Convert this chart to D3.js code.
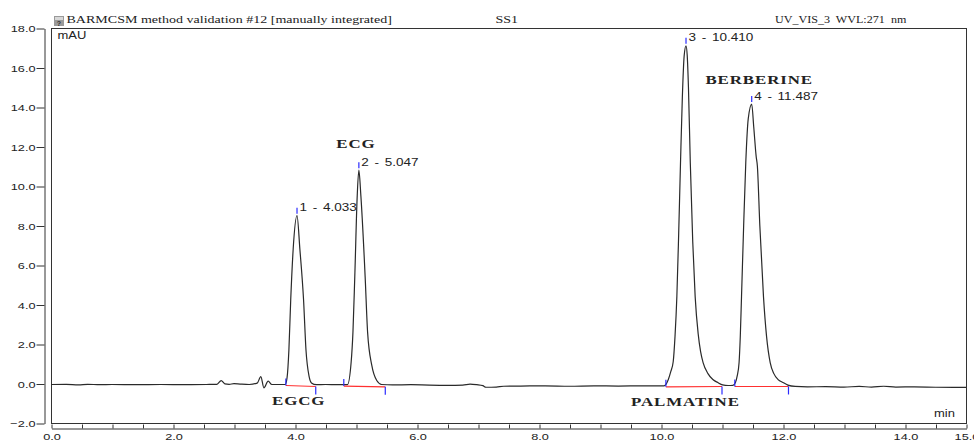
<!DOCTYPE html>
<html>
<head>
<meta charset="utf-8">
<script src="https://cdn.jsdelivr.net/npm/d3@7"></script>
<style>
  html, body { margin: 0; padding: 0; background: #fff; }
  svg { display: block; }
</style>
</head>
<body>
<svg id="chart" width="974" height="441"></svg>
<script>
/* HPLC chromatogram, SS1, UV_VIS_3 at 271 nm.
   Trace points, [time min, signal mAU]. */
const trace = [
  [0.00, -0.05], [0.25, -0.04], [0.45, -0.07], [0.60, -0.04], [0.80, -0.06], [1.00, -0.05],
  [1.40, -0.06], [1.80, -0.05], [2.20, -0.06], [2.55, -0.05], [2.72, -0.04], [2.79, 0.15],
  [2.85, -0.02], [2.92, -0.04], [3.00, -0.01], [3.10, -0.03], [3.25, -0.05], [3.38, 0.02],
  [3.44, 0.35], [3.49, -0.22], [3.56, 0.12], [3.62, -0.05], [3.75, -0.05],
  // peak 1
  [3.84, -0.05], [3.87, 0.30], [3.90, 1.70], [3.93, 4.25], [3.97, 6.80], [4.033, 8.50],
  [4.08, 6.80], [4.14, 4.25], [4.18, 1.70], [4.23, 0.37], [4.27, 0.03], [4.35, -0.06],
  [4.50, -0.05], [4.70, -0.06], [4.86, -0.06],
  // peak 2
  [4.92, 1.06], [4.95, 2.60], [4.98, 5.40], [5.02, 9.50], [5.047, 10.80], [5.08, 9.50],
  [5.15, 5.40], [5.19, 2.60], [5.26, 0.90], [5.34, 0.15], [5.42, -0.05],
  [5.60, -0.07], [5.90, -0.06], [6.20, -0.08], [6.50, -0.09], [6.75, -0.08], [6.87, -0.03],
  [6.98, -0.06], [7.08, -0.11], [7.13, -0.19], [7.30, -0.18], [7.42, -0.14], [7.70, -0.13],
  [8.10, -0.12], [8.50, -0.14], [8.90, -0.12], [9.30, -0.13], [9.70, -0.12], [10.05, -0.12],
  // peak 3
  [10.12, 0.20], [10.16, 0.60], [10.20, 1.10], [10.23, 2.40], [10.26, 4.40], [10.29, 7.60],
  [10.32, 11.20], [10.35, 14.50], [10.38, 16.60], [10.41, 17.10], [10.43, 16.60], [10.45, 15.00],
  [10.48, 11.20], [10.52, 7.20], [10.56, 4.40], [10.61, 2.50], [10.65, 1.60], [10.69, 1.06],
  [10.77, 0.50], [10.85, 0.20], [10.93, 0.05], [11.01, -0.07], [11.10, -0.10], [11.18, -0.09],
  // peak 4
  [11.22, 0.05], [11.25, 0.40], [11.28, 1.06], [11.30, 2.40], [11.32, 4.40], [11.355, 8.00],
  [11.39, 11.20], [11.43, 13.40], [11.487, 14.15], [11.52, 13.00], [11.56, 11.50], [11.58, 11.00],
  [11.62, 8.00], [11.68, 4.40], [11.73, 2.40], [11.79, 1.06], [11.85, 0.50], [11.92, 0.20],
  [12.00, 0.05], [12.08, -0.08], [12.20, -0.15],
  [12.40, -0.17], [12.70, -0.16], [13.00, -0.18], [13.25, -0.15], [13.45, -0.18], [13.65, -0.14],
  [13.85, -0.18], [14.15, -0.17], [14.50, -0.19], [15.00, -0.20]
];

// integrated peaks
const peakNo = [1, 2, 3, 4];
const peakRT = [4.033, 5.047, 10.410, 11.487];
const peakTop = [8.50, 10.80, 17.10, 14.15];
const intStart = [[3.85, -0.05], [4.80, -0.08], [10.08, -0.12], [11.21, -0.10]];
const intEnd = [[4.34, -0.10], [5.48, -0.12], [11.00, -0.10], [12.09, -0.10]];
const compounds = ['EGCG', 'ECG', 'PALMATINE', 'BERBERINE'];

// axis ticks
const yTicks = [-2, 0, 2, 4, 6, 8, 10, 12, 14, 16, 18];
const xTicks = [0, 2, 4, 6, 8, 10, 12, 14, 15];

// header strings
const title = 'BARMCSM method validation #12 [manually integrated]';
const sample = 'SS1';
const channel = 'UV_VIS_3  WVL:271  nm';

// ---- layout ----
const svg = d3.select('#chart');
const L = 51, R = 966, T = 28, B = 423;
const ink = '#222', line = '#333';
const SX = 1.3; // printout text is stretched sideways
const sans = 'Liberation Sans, Arial, sans-serif';
const serif = 'Liberation Serif, Times New Roman, serif';

const x = d3.scaleLinear().domain([0, 15]).range([L, R]);
const y = d3.scaleLinear().domain([-2, 18]).range([B, T]);

// where the compound names sit (time, mAU)
const compoundAt = [[4.06, -1.08], [5.00, 11.93], [10.40, -1.16], [11.61, 15.14]];

function txt(px, py, s, o = {}) {
  return svg.append('text')
    .attr('transform', `translate(${px},${py}) scale(${o.sx || SX},1)`)
    .attr('text-anchor', o.anchor || 'start')
    .attr('font-family', o.family || sans)
    .attr('font-size', o.size || 10)
    .attr('font-weight', o.weight || 'normal')
    .attr('letter-spacing', o.ls || null)
    .attr('word-spacing', o.ws || null)
    .style('white-space', 'pre')
    .attr('fill', ink)
    .text(s);
}

// header
const icon = svg.append('g').attr('transform', 'translate(54,16)');
icon.append('rect').attr('width', 10).attr('height', 10).attr('fill', '#9a9a9a');
icon.append('rect').attr('x', 1).attr('y', 1).attr('width', 8).attr('height', 3).attr('fill', '#d8d8d8');
icon.append('text').attr('x', 5).attr('y', 9.5).attr('text-anchor', 'middle')
  .attr('font-family', sans).attr('font-size', 7).attr('font-weight', 'bold')
  .attr('fill', '#333').text('?');
txt(66.5, 23.3, title, { family: serif, size: 10.8 });
txt(495.5, 23.3, sample, { family: serif, size: 10.8 });
txt(775, 23.3, channel, { family: serif, size: 10.8, sx: 1.12 });

// frame
svg.append('rect')
  .attr('x', L + 0.5).attr('y', T + 0.5)
  .attr('width', R - L).attr('height', B - T)
  .attr('fill', 'none').attr('stroke', line).attr('stroke-width', 1);

txt(57.5, 39, 'mAU', { size: 10 });
txt(934, 416.7, 'min', { size: 10 });

// y axis, sits left of the frame
const minorY = d3.range(-2, 18.01, 0.5).filter(v => v % 2 !== 0);
const ga = svg.append('g').attr('transform', 'translate(44.5,0.5)');
ga.call(d3.axisLeft(y).tickValues(minorY).tickSize(4).tickSizeOuter(0).tickFormat(''));
ga.call(d3.axisLeft(y).tickValues(yTicks).tickSize(8).tickSizeOuter(0)
  .tickPadding(1).tickFormat(d3.format('.1f')));
ga.selectAll('path, line').attr('stroke', line);
ga.selectAll('text')
  .attr('font-family', sans).attr('font-size', 9.8).attr('fill', ink)
  .attr('x', -9 / SX).attr('transform', `scale(${SX},1)`);

// x axis, below the frame, ticks pointing up
const xMinor = d3.range(0, 15.01, 0.5);
const gx = svg.append('g').attr('transform', 'translate(0.5,428.5)');
gx.call(d3.axisBottom(x).tickValues(xMinor).tickSize(-4).tickSizeOuter(0).tickPadding(5)
  .tickFormat(d => xTicks.includes(d) ? d.toFixed(1) : ''));
gx.selectAll('path, line').attr('stroke', line);
gx.selectAll('text')
  .attr('font-family', sans).attr('font-size', 9.8).attr('fill', ink)
  .attr('transform', `scale(${SX},1)`);

// signal
svg.append('path')
  .datum(trace)
  .attr('d', d3.line().x(d => x(d[0])).y(d => y(d[1])).curve(d3.curveMonotoneX))
  .attr('fill', 'none').attr('stroke', '#2a2a2a').attr('stroke-width', 1.2)
  .attr('stroke-linejoin', 'round');

// integration baselines, drawn over the trace
peakNo.forEach((n, i) => {
  svg.append('line')
    .attr('x1', x(intStart[i][0])).attr('y1', y(intStart[i][1]) + 1)
    .attr('x2', x(intEnd[i][0])).attr('y2', y(intEnd[i][1]) + 1)
    .attr('stroke', '#ff3030').attr('stroke-width', 1.2);
});

// start / end markers and apex ticks
const blue = '#2b2bff';
peakNo.forEach((n, i) => {
  const sx0 = x(intStart[i][0]), sy0 = y(intStart[i][1]) + 1;
  const ex0 = x(intEnd[i][0]), ey0 = y(intEnd[i][1]) + 1;
  svg.append('line').attr('x1', sx0).attr('x2', sx0).attr('y1', sy0).attr('y2', sy0 - 7)
    .attr('stroke', blue).attr('stroke-width', 1.2);
  svg.append('line').attr('x1', ex0).attr('x2', ex0).attr('y1', ey0).attr('y2', ey0 + 8)
    .attr('stroke', blue).attr('stroke-width', 1.2);

  const ax = x(peakRT[i]), ay = y(peakTop[i]);
  svg.append('line').attr('x1', ax).attr('x2', ax).attr('y1', ay - 8).attr('y2', ay - 2)
    .attr('stroke', blue).attr('stroke-width', 1.2);
  txt(ax + 2.5, ay - 4.5, `${n} - ${peakRT[i].toFixed(3)}`, { size: 10.4, ws: '1.5px' });
});

// compound names
compounds.forEach((c, i) => {
  txt(x(compoundAt[i][0]), y(compoundAt[i][1]), c, {
    family: serif, size: 13, weight: 'bold', anchor: 'middle', ls: '0.7px'
  });
});
</script>
</body>
</html>
